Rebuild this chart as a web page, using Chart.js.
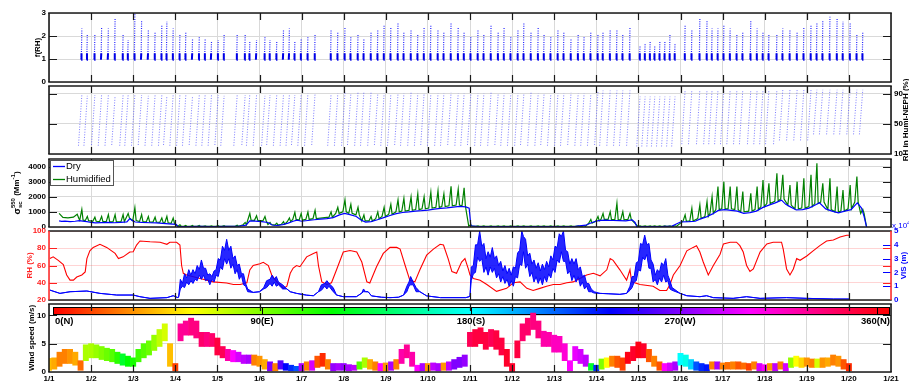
<!DOCTYPE html>
<html>
<head>
<meta charset="utf-8">
<script src="https://cdn.jsdelivr.net/npm/chart.js@4.4.1/dist/chart.umd.min.js"></script>
<style>
  html, body { margin: 0; padding: 0; background: #fff; }
  #wrap { position: relative; width: 909px; height: 383px; overflow: hidden; background: #fff; }
  #wrap canvas { position: absolute; left: 0; }
</style>
</head>
<body>
<div id="wrap">
  <canvas id="pFrh"></canvas>
  <canvas id="pScanRh"></canvas>
  <canvas id="pScat"></canvas>
  <canvas id="pMet"></canvas>
  <canvas id="pWind"></canvas>
</div>
<script>
// ---------- time axis (days since 1 Jan 00:00) ----------
const dayLabels = ['1/1','1/2','1/3','1/4','1/5','1/6','1/7','1/8','1/9','1/10','1/11',
                   '1/12','1/13','1/14','1/15','1/16','1/17','1/18','1/19','1/20','1/21'];
const dayTicks = dayLabels.map((_, i) => i);

// ---------- axis ticks ----------
const fTicks = [0, 1, 2, 3];
const scanRhTicks = [10, 50, 90];
const scatTicks = [0, 1000, 2000, 3000, 4000];
const rhTicks = [20, 40, 60, 80, 100];
const visTicks = [0, 1, 2, 3, 4, 5];
const windTicks = [0, 5, 10];
const dirTicks = [0, 90, 180, 270, 360];
const dirLabels = ['0(N)', '90(E)', '180(S)', '270(W)', '360(N)'];

// ---------- humidifier scans: time at the end of each RH ramp ----------
const scanEnd = [
  0.78, 0.91, 1.09, 1.25, 1.41, 1.57, 1.76, 1.88, 2.04, 2.20, 2.36,
  2.52, 2.68, 2.80, 2.95, 3.11, 3.25, 3.41, 3.57, 3.71, 3.86, 4.02,
  4.16, 4.47, 4.66, 4.77, 4.93, 5.13, 5.25, 5.41, 5.57, 5.71, 5.84,
  5.99, 6.15, 6.32, 6.70, 6.86, 7.03, 7.17, 7.34, 7.48, 7.65, 7.81,
  7.96, 8.12, 8.29, 8.43, 8.60, 8.76, 8.91, 9.07, 9.24, 9.38, 9.55,
  9.72, 9.86, 10.02, 10.19, 10.33, 10.50, 10.67, 10.81, 10.97, 11.14, 11.28,
  11.45, 11.62, 11.76, 11.92, 12.09, 12.23, 12.40, 12.57, 12.71, 12.87, 13.04,
  13.16, 13.33, 13.49, 13.63, 13.80, 14.04, 14.16, 14.28, 14.39, 14.51, 14.63,
  14.75, 14.87, 15.11, 15.27, 15.46, 15.63, 15.75, 15.89, 16.03, 16.18, 16.34,
  16.48, 16.67, 16.82, 16.96, 17.10, 17.29, 17.43, 17.60, 17.77, 17.93, 18.10,
  18.24, 18.38, 18.55, 18.72, 18.86, 19.03, 19.19, 19.33
];
// highest f(RH) reached in each scan
const fPeak = [
  2.33, 2.10, 2.10, 2.40, 2.33, 2.77, 2.04, 1.83, 2.98, 2.70, 2.26,
  2.20, 2.48, 2.62, 2.33, 2.10, 2.20, 1.90, 1.97, 1.90, 1.75, 1.83,
  2.04, 2.04, 2.04, 1.75, 1.83, 1.97, 1.83, 1.75, 2.26, 2.33, 1.75,
  1.90, 2.00, 2.10, 2.30, 2.20, 2.40, 2.00, 2.10, 1.90, 2.20, 2.30,
  2.50, 2.40, 2.60, 2.20, 2.30, 2.10, 2.40, 2.50, 2.30, 2.20, 2.60,
  2.40, 2.20, 2.00, 2.30, 2.10, 2.50, 2.20, 2.40, 2.00, 2.30, 2.60,
  2.20, 2.40, 2.10, 2.00, 2.30, 2.20, 1.90, 2.10, 2.00, 2.20, 2.10,
  2.19, 2.26, 2.26, 2.10, 2.40, 1.60, 1.70, 1.80, 1.60, 1.75, 1.80,
  2.10, 1.70, 2.48, 2.26, 2.77, 2.70, 2.33, 2.33, 2.48, 2.33, 2.10,
  2.20, 2.70, 2.33, 2.20, 2.10, 2.10, 2.33, 2.26, 2.20, 2.40, 2.48,
  2.55, 2.70, 2.84, 2.77, 2.62, 2.55, 2.10, 2.20
];
// RH at the start and at the end of each scan (%)
const scanRhLow = [
  21, 21, 22, 21, 21, 22, 21, 21, 21, 22, 21,
  21, 21, 22, 21, 21, 21, 22, 21, 21, 21, 22,
  21, 21, 22, 21, 21, 21, 22, 21, 21, 21, 22,
  21, 21, 22, 21, 21, 21, 22, 21, 21, 21, 22,
  21, 21, 22, 21, 21, 21, 22, 21, 21, 21, 22,
  21, 21, 22, 21, 21, 21, 22, 21, 21, 21, 22,
  21, 21, 22, 21, 21, 21, 22, 21, 21, 21, 22,
  21, 21, 21, 21, 21, 20, 20, 20, 20, 20, 20,
  20, 20, 23, 23, 23, 23, 23, 23, 23, 23, 23,
  23, 23, 23, 23, 23, 23, 28, 28, 28, 28, 28,
  36, 36, 36, 36, 36, 36, 36, 36
];
const scanRhHigh = [
  88, 87, 88, 89, 88, 87, 88, 88, 89, 88, 87,
  88, 88, 87, 89, 88, 88, 87, 88, 89, 88, 88,
  87, 88, 88, 89, 88, 87, 88, 88, 89, 88, 88,
  89, 90, 90, 89, 90, 91, 90, 92, 93, 92, 90,
  90, 89, 90, 90, 91, 90, 90, 89, 90, 90, 91,
  90, 90, 89, 90, 90, 91, 90, 90, 89, 90, 90,
  91, 90, 90, 89, 90, 90, 91, 90, 90, 89, 93,
  94, 94, 94, 94, 94, 86, 86, 86, 86, 86, 86,
  86, 86, 95, 95, 95, 95, 95, 95, 95, 95, 95,
  95, 95, 95, 95, 95, 95, 95, 95, 95, 95, 95,
  95, 95, 95, 95, 95, 95, 95, 95
];
// humidified scattering just before each scan and at its peak (Mm-1)
const wetBase = [
  450, 420, 380, 350, 360, 340, 360, 600, 420, 360, 340,
  330, 300, 280, 240, 50, 40, 40, 40, 40, 40, 40,
  40, 50, 150, 450, 440, 400, 160, 120, 180, 350, 500,
  450, 500, 550, 650, 900, 1000, 900, 800, 400, 400, 550,
  700, 850, 1000, 1050, 1100, 1150, 1200, 1250, 1300, 1350, 1400,
  1450, 1400, 60, 40, 40, 40, 40, 40, 40, 40, 40,
  40, 40, 40, 40, 40, 40, 40, 40, 40, 250, 400,
  500, 500, 480, 480, 500, 40, 40, 40, 40, 40, 40,
  40, 40, 380, 400, 560, 700, 900, 1150, 1200, 1200, 1150,
  1000, 1050, 1150, 1350, 1550, 1700, 1850, 1450, 1200, 1250, 1350,
  1550, 1650, 1150, 1000, 1050, 1200, 1650, 900
];
const wetPeak = [
  1170, 700, 650, 700, 820, 820, 820, 900, 1280, 820, 700,
  650, 600, 700, 600, 150, 100, 100, 100, 80, 80, 90,
  90, 120, 300, 900, 750, 700, 300, 250, 350, 600, 968,
  900, 1000, 1100, 1000, 1300, 1800, 1500, 1300, 800, 700, 1000,
  1300, 1500, 1800, 1900, 2000, 2200, 2000, 2300, 2400, 2200, 2700,
  2500, 2600, 150, 80, 80, 80, 80, 80, 80, 80, 80,
  80, 80, 80, 80, 80, 80, 80, 80, 80, 500, 700,
  900, 1010, 1570, 1010, 900, 80, 80, 80, 80, 80, 80,
  80, 80, 800, 1240, 1460, 1680, 2000, 2670, 3000, 2670, 2670,
  2340, 2230, 2670, 3110, 2890, 3550, 3450, 2780, 3000, 3230, 3450,
  4220, 2890, 3230, 2670, 2450, 2780, 3340, 1170
];
const wetLead = [[0.24, 900], [0.33, 640], [0.45, 600], [0.58, 650], [0.67, 840], [0.71, 560]];
const wetTail = [[19.42, 0]];

// dry scattering at 550 nm (Mm-1)
const dryScat = [
  [0.24,400],[0.30,370],[0.38,390],[0.50,350],[0.62,380],[0.72,420],[0.80,390],[0.90,350],
  [1.00,300],[1.10,270],[1.25,290],[1.40,300],[1.55,280],[1.70,300],[1.85,340],[1.92,560],
  [1.98,420],[2.05,330],[2.20,300],[2.40,280],[2.55,270],[2.70,240],[2.85,210],[3.02,180],
  [3.06,40],[3.30,30],[3.60,40],[3.90,30],[4.20,40],[4.50,50],[4.68,120],[4.77,400],
  [4.90,390],[5.05,360],[5.20,300],[5.30,130],[5.42,100],[5.55,160],[5.68,260],[5.80,380],
  [5.89,450],[6.00,380],[6.15,430],[6.30,480],[6.45,520],[6.60,560],[6.75,620],[6.90,800],
  [7.02,900],[7.15,820],[7.30,700],[7.42,450],[7.52,320],[7.65,360],[7.80,480],[7.95,620],
  [8.10,760],[8.25,880],[8.40,960],[8.55,1000],[8.70,1050],[8.85,1080],[9.00,1120],[9.15,1180],
  [9.30,1230],[9.45,1270],[9.60,1320],[9.75,1360],[9.90,1330],[9.98,1250],[10.02,80],[10.20,30],
  [10.60,20],[11.00,30],[11.50,25],[12.00,30],[12.50,40],[12.75,120],[12.90,300],[13.05,420],
  [13.20,450],[13.40,430],[13.55,420],[13.70,410],[13.85,470],[13.92,300],[13.96,40],[14.30,30],
  [14.60,40],[14.80,60],[14.90,200],[15.00,330],[15.20,350],[15.35,380],[15.46,520],[15.60,650],
  [15.75,850],[15.90,1100],[16.05,1150],[16.20,1100],[16.35,1050],[16.50,900],[16.65,950],[16.80,1050],
  [16.96,1300],[17.10,1450],[17.25,1600],[17.40,1780],[17.50,1500],[17.60,1350],[17.75,1130],[17.90,1150],
  [18.05,1250],[18.20,1450],[18.30,1600],[18.45,1200],[18.60,1050],[18.75,940],[18.90,1050],[19.05,1150],
  [19.20,1600],[19.30,1250],[19.36,700],[19.42,0]
];

// ambient RH (%)
const ambientRh = [
  [0.02,68],[0.10,70],[0.22,66],[0.34,61],[0.42,49],[0.50,43],[0.58,43],[0.66,46.6],[0.78,49],[0.86,52.6],
  [0.90,68],[0.97,77],[1.05,81],[1.21,84.6],[1.37,81],[1.57,74],[1.65,68],[1.76,70],[1.92,75.6],[2.00,76],
  [2.08,83.7],[2.16,88.4],[2.40,87.5],[2.64,87],[2.80,84.6],[2.87,87],[3.03,87],[3.11,83.7],[3.15,60],[3.19,51],
  [3.27,49],[3.43,47],[3.59,45],[3.90,41],[4.22,39.7],[4.38,38],[4.54,38],[4.70,40],[4.77,54.8],[4.85,60],
  [5.01,62],[5.09,63.7],[5.21,60],[5.29,49],[5.41,41],[5.57,33.5],[5.65,36],[5.73,51],[5.80,57],[5.88,60],
  [5.96,58.6],[6.12,70],[6.28,74],[6.36,75.6],[6.40,60],[6.48,41],[6.60,38],[6.71,40],[6.83,55],[6.99,75.6],
  [7.15,77.3],[7.31,75.6],[7.43,64],[7.55,41],[7.62,39.7],[7.78,58.6],[7.94,74],[8.10,81],[8.26,81],[8.34,79],
  [8.46,60],[8.57,43],[8.69,41],[8.81,55],[8.97,72],[9.13,79],[9.29,84.6],[9.37,83.8],[9.48,68],[9.57,53],
  [9.68,51],[9.80,64],[9.88,68],[9.96,56],[10.00,49],[10.08,45],[10.24,43],[10.40,38],[10.63,30],[10.87,33.5],
  [11.03,40],[11.19,41],[11.35,33.5],[11.50,31],[11.66,33.5],[11.82,36],[11.98,38],[12.14,38],[12.30,40],[12.45,41],
  [12.61,45],[12.77,49],[12.93,51],[13.09,48],[13.25,55],[13.33,68],[13.40,66],[13.56,55],[13.64,49],[13.72,43],
  [13.80,55],[13.84,41],[14.04,38],[14.35,36],[14.51,31],[14.67,31],[14.75,38],[14.83,49],[14.99,60],[15.15,77],
  [15.30,81],[15.38,83],[15.46,75.6],[15.54,64],[15.66,49],[15.78,60],[15.94,73],[16.02,85],[16.18,87],[16.33,87],
  [16.41,83],[16.49,75.6],[16.57,60],[16.65,53],[16.73,56],[16.89,75.6],[17.05,85],[17.20,87],[17.40,87],[17.44,79],
  [17.52,56],[17.60,49],[17.68,56],[17.76,68],[17.84,66],[18.00,71],[18.15,77],[18.31,83],[18.47,88.4],[18.63,89.5],
  [18.79,93],[18.95,95],[19.01,95]
];

// visibility (x 10^4 m): [time, lower edge, upper edge] of the fluctuating signal
const visibility = [
  [0.02,0.72,0.72],[0.26,0.48,0.48],[0.50,0.60,0.60],[0.90,0.65,0.65],[1.21,0.48,0.48],[1.61,0.36,0.36],
  [2.00,0.36,0.36],[2.16,0.24,0.24],[2.40,0.12,0.12],[2.80,0.17,0.17],[2.95,0.31,0.31],[3.06,0.17,0.17],
  [3.08,0.2,0.3],[3.12,0.8,1.5],[3.17,1.0,1.2],[3.22,0.9,1.9],[3.27,1.3,1.6],[3.32,1.1,2.2],[3.37,1.4,1.8],
  [3.42,1.2,2.2],[3.47,1.5,1.9],[3.52,1.4,2.5],[3.57,1.8,2.2],[3.62,1.5,2.9],[3.67,1.8,2.3],[3.72,1.4,2.3],
  [3.77,1.5,1.8],[3.82,1.1,1.9],[3.87,1.5,1.7],[3.92,1.3,2.1],[3.97,1.8,2.2],[4.02,1.7,3.0],[4.07,2.4,2.9],
  [4.12,2.2,3.9],[4.17,3.0,3.6],[4.22,2.6,4.4],[4.27,3.0,3.6],[4.32,2.3,3.9],[4.37,2.6,3.0],[4.42,1.9,3.2],
  [4.47,2.2,2.5],[4.52,1.5,2.6],[4.57,1.8,1.9],[4.62,1.1,1.9],[4.67,1.0,1.2],[4.72,0.6,0.8],
  [4.85,0.55,0.55],[5.00,0.6,0.6],[5.10,0.8,0.9],[5.17,0.9,1.4],[5.25,1.2,1.5],[5.30,1.0,1.8],[5.35,1.3,1.5],
  [5.40,1.0,1.7],[5.45,1.1,1.3],[5.55,0.8,1.1],[5.65,0.8,0.8],[5.73,0.6,0.6],[5.88,0.48,0.48],[6.12,0.35,0.35],
  [6.28,0.31,0.31],[6.40,0.6,0.6],[6.47,0.7,1.1],[6.55,1.0,1.2],[6.60,0.8,1.4],[6.65,1.0,1.2],[6.75,0.6,0.9],
  [6.83,0.36,0.36],[6.99,0.24,0.24],[7.30,0.24,0.24],[7.43,0.5,0.5],[7.47,0.6,0.8],[7.52,0.6,0.6],[7.58,0.6,0.6],
  [7.66,0.3,0.3],[7.90,0.2,0.2],[8.10,0.17,0.17],[8.30,0.2,0.2],[8.42,0.35,0.35],[8.50,0.6,1.0],[8.55,1.0,1.3],
  [8.59,1.1,1.7],[8.65,1.1,1.3],[8.72,0.6,0.9],[8.81,0.6,0.6],[8.97,0.3,0.3],[9.30,0.17,0.17],[9.90,0.17,0.17],
  [9.98,0.24,0.24],
  [10.00,0.3,0.3],[10.03,1.4,2.4],[10.08,1.9,2.5],[10.13,2.0,4.0],[10.18,3.1,4.0],[10.23,2.8,5.0],[10.28,3.0,3.9],
  [10.33,2.0,4.1],[10.38,2.4,3.0],[10.43,1.8,3.5],[10.48,2.4,3.1],[10.53,2.0,3.8],[10.58,2.3,3.0],[10.63,1.6,3.2],
  [10.68,1.9,2.5],[10.73,1.3,2.8],[10.78,1.7,2.1],[10.83,1.2,2.5],[10.88,1.5,1.9],[10.93,1.0,2.3],[10.98,1.4,1.8],
  [11.03,1.0,2.4],[11.08,1.7,2.3],[11.13,1.6,3.4],[11.18,2.6,3.6],[11.23,2.5,5.0],[11.27,3.5,4.6],[11.32,2.3,4.4],
  [11.37,2.6,3.2],[11.42,1.7,3.4],[11.47,2.0,2.6],[11.52,1.3,2.9],[11.57,1.7,2.3],[11.62,1.2,2.7],[11.67,1.6,2.1],
  [11.72,1.1,2.6],[11.77,1.7,2.2],[11.82,1.3,2.8],[11.87,1.9,2.4],[11.92,1.6,3.2],[11.97,2.3,2.9],[12.02,2.0,3.9],
  [12.07,2.9,3.8],[12.12,2.7,4.8],[12.17,3.5,4.6],[12.22,2.8,5.0],[12.27,2.8,3.6],[12.32,1.9,3.5],[12.37,2.1,2.6],
  [12.42,1.4,3.0],[12.47,1.8,2.6],[12.52,1.3,3.0],[12.57,1.7,2.2],[12.62,1.0,2.4],[12.67,1.3,1.7],[12.72,0.8,1.8],
  [12.77,1.0,1.2],[12.82,0.6,1.2],[12.88,0.6,0.8],[12.95,0.5,0.6],
  [13.09,0.48,0.48],[13.30,0.45,0.45],[13.56,0.41,0.41],[13.72,0.48,0.48],
  [13.80,0.7,1.0],[13.85,0.9,1.7],[13.90,1.3,1.7],[13.95,1.4,2.7],[14.00,2.2,2.8],[14.05,2.1,4.1],[14.10,3.1,4.0],
  [14.15,2.9,4.7],[14.20,3.3,4.0],[14.25,2.3,4.1],[14.30,2.3,2.9],[14.35,1.3,2.6],[14.40,1.5,1.8],[14.45,1.1,2.2],
  [14.50,1.6,2.0],[14.55,1.3,2.7],[14.60,1.8,2.5],[14.65,1.3,3.0],[14.70,1.4,1.8],[14.75,0.8,1.4],[14.80,0.7,0.9],
  [14.99,0.48,0.48],[15.15,0.31,0.31],[15.46,0.24,0.24],[15.62,0.31,0.31],[15.78,0.17,0.17],[16.25,0.12,0.12],
  [16.57,0.24,0.24],[16.89,0.12,0.12],[17.52,0.17,0.17],[18.00,0.12,0.12],[18.63,0.07,0.07],[19.01,0.07,0.07]
];

// wind, 3-hourly from 1/1 00:00: speed range (m/s) and direction (deg)
const windStepHours = 3;
const windLow = [
  0.3,0.5,1.0,1.5,1.5,1.2,0.3,2.0, 2.5,2.5,2.2,2.0,1.8,1.5,1.2,1.0,
  1.0,1.8,2.5,3.0,3.8,4.5,5.5,1.0, 0.2,5.5,6.5,6.5,6.0,4.5,4.5,4.5,
  3.0,2.5,2.0,1.8,1.8,1.5,1.5,1.2, 1.0,0.5,0.2,0.2,0.5,0.3,0.2,0.2,
  0.2,0.3,0.3,0.8,1.0,0.5,0.2,0.3, 0.3,0.2,0.3,0.5,0.8,0.5,0.3,0.2,
  0.2,0.3,0.5,1.5,2.5,1.0,0.0,0.2, 0.2,0.3,0.2,0.3,0.3,0.5,0.8,1.0,
  4.5,4.5,5.0,4.0,4.5,4.0,3.0,1.0, 0.0,2.5,5.5,6.5,7.5,6.0,4.5,4.5,
  3.5,3.5,2.0,0.2,2.0,1.5,1.0,0.3, 0.2,
  0.5,0.8,1.0,0.8,0.3,1.5,2.0,2.5, 2.5,1.8,1.0,0.3,0.2,0.2,0.3,1.2,
  1.0,0.5,0.3,0.2,0.2,0.5,0.5,0.5, 0.5,0.5,0.5,0.5,0.3,0.5,0.2,0.2,
  0.3,0.2,0.5,0.2,0.8,1.0,0.8,1.0, 0.8,0.8,0.8,1.0,1.2,1.0,0.5,0.2
];
const windHigh = [
  2.4,2.5,3.5,4.0,4.0,3.5,2.0,4.8, 5.0,4.8,4.5,4.2,4.0,3.5,3.2,2.8,
  2.5,4.0,5.0,5.5,6.5,7.5,8.5,5.0, 1.5,8.5,9.0,9.5,9.0,7.0,7.0,6.8,
  6.0,4.5,4.0,3.8,3.5,3.0,3.0,3.0, 2.8,2.2,1.8,1.5,2.0,1.5,1.2,1.0,
  1.5,1.8,2.0,2.8,3.3,2.2,1.5,1.5, 1.5,1.3,1.2,1.8,2.5,2.2,1.8,1.5,
  1.6,1.8,2.2,4.0,4.8,3.5,1.2,1.5, 1.5,1.6,1.5,1.6,1.8,2.2,2.6,3.0,
  7.0,7.5,7.8,7.0,7.5,7.3,6.0,4.0, 1.5,5.5,8.5,9.5,10.4,9.0,7.2,7.0,
  6.5,6.3,5.0,2.0,4.5,4.0,3.0,1.5, 1.2,
  2.3,2.5,2.8,2.8,2.5,3.5,4.5,5.3, 5.0,4.0,2.8,1.8,1.5,1.6,1.8,3.3,
  3.0,2.2,1.8,1.5,1.3,1.8,1.8,1.6, 1.7,1.8,1.8,1.6,1.5,1.8,1.5,1.3,
  1.5,1.5,1.8,1.5,2.5,2.8,2.5,2.5, 2.3,2.3,2.5,2.5,3.0,2.8,2.2,1.5
];
const windDir = [
  45,40,30,30,35,40,25,80, 80,85,90,95,100,110,130,120,
  115,105,100,95,85,75,70,45, 15,325,325,330,330,335,330,335,
  345,340,320,300,290,285,280,30, 35,40,270,30,260,240,230,220,
  280,30,290,20,10,30,275,280, 275,280,285,100,80,40,30,300,
  35,280,30,320,325,320,300,280, 35,285,280,35,285,270,270,275,
  340,345,345,345,340,345,345,350, 350,345,335,335,330,330,320,320,
  315,315,310,300,295,290,285,130, 230,
  90,60,30,20,15,355,350,355, 350,20,30,20,300,290,280,180,
  175,190,220,230,235,30,280,30, 25,30,20,25,15,30,290,300,
  35,285,30,290,85,60,50,35, 30,70,35,40,30,35,20,10
];

// ---------- drawing setup ----------
const FONT = '"Liberation Sans", Arial, Helvetica, sans-serif';
const font = (px, w = 'bold') => `${w} ${px}px ${FONT}`;
const TICK_FONT = {family: FONT, size: 8, weight: 'bold'};
const TITLE = font(8);
const GRID = '#d9d9d9';
const INK = '#1a1a1a';
const W = 909, H = 383, PLOT_L = 49, PLOT_R = 891;
const SCAN_DAYS = 0.08;      // length of one humidifier RH ramp

Chart.defaults.font.family = FONT;
Chart.defaults.animation = false;
Chart.defaults.events = [];
Chart.defaults.plugins.legend.display = false;
Chart.defaults.plugins.tooltip.enabled = false;

function xScale(withLabels) {
  return {
    type: 'linear', min: 0, max: 20, offset: false,
    afterBuildTicks: s => { s.ticks = dayTicks.map(v => ({value: v})); },
    afterFit: s => { s.height = withLabels ? H - 372 : 0; },
    grid: {color: GRID, lineWidth: 1, drawTicks: false, offset: false},
    border: {display: false},
    ticks: withLabels
      ? {display: true, autoSkip: false, maxRotation: 0, padding: 2, color: '#000', font: TICK_FONT,
         callback: (v, i) => dayLabels[i]}
      : {display: false}
  };
}

function yScale(pos, min, max, ticks, o = {}) {
  return {
    type: 'linear', position: pos, min, max,
    afterBuildTicks: s => { s.ticks = ticks.map(v => ({value: v})); },
    afterFit: s => { s.width = pos === 'left' ? PLOT_L : W - PLOT_R; },
    grid: {display: o.grid !== false, color: o.gridColor || GRID, lineWidth: 1, drawTicks: false},
    border: {display: false},
    ticks: {display: o.labels !== false, color: o.color || '#000', font: TICK_FONT, padding: 3,
            callback: v => String(v)}
  };
}

// box, inward tick marks
const framePlugin = {
  id: 'frame',
  afterDatasetsDraw(chart, _args, o) {
    const {ctx, chartArea: a, scales} = chart;
    ctx.save();
    ctx.lineWidth = 1.2;
    ctx.strokeStyle = INK;
    ctx.beginPath();
    dayTicks.forEach(v => {
      if (v === 0 || v === 20) return;
      const px = Math.round(scales.x.getPixelForValue(v)) + 0.5;
      ctx.moveTo(px, a.top); ctx.lineTo(px, a.top + 7);
      ctx.moveTo(px, a.bottom); ctx.lineTo(px, a.bottom - 7);
    });
    ctx.stroke();
    (o.marks || []).forEach(m => {
      const s = scales[m.scale];
      ctx.strokeStyle = m.color || INK;
      ctx.beginPath();
      s.ticks.forEach(t => {
        if (t.value <= s.min || t.value >= s.max) return;
        const py = Math.round(s.getPixelForValue(t.value)) + 0.5;
        if (m.left) { ctx.moveTo(a.left, py); ctx.lineTo(a.left + 8, py); }
        if (m.right) { ctx.moveTo(a.right, py); ctx.lineTo(a.right - 8, py); }
      });
      ctx.stroke();
    });
    ctx.lineWidth = 1.6;
    const edge = (c, x0, y0, x1, y1) => {
      ctx.strokeStyle = c; ctx.beginPath(); ctx.moveTo(x0, y0); ctx.lineTo(x1, y1); ctx.stroke();
    };
    edge(INK, a.left - 0.8, a.top, a.right + 0.8, a.top);
    edge(INK, a.left - 0.8, a.bottom, a.right + 0.8, a.bottom);
    edge(o.leftColor || INK, a.left, a.top, a.left, a.bottom);
    edge(o.rightColor || INK, a.right, a.top, a.right, a.bottom);
    ctx.restore();
  }
};

// rotated axis titles, read from bottom to top; parts may carry super/subscripts
function drawVText(ctx, x, yc, parts, color) {
  ctx.save();
  ctx.translate(x, yc);
  ctx.rotate(-Math.PI / 2);
  ctx.fillStyle = color || '#000';
  ctx.textBaseline = 'middle';
  ctx.textAlign = 'left';
  const widths = parts.map(p => { ctx.font = p.f; return ctx.measureText(p.t).width; });
  const pos = [];
  let cur = 0, start = 0, span = 0;
  parts.forEach((p, i) => {
    if (p.stack) { pos.push(start); span = Math.max(span, widths[i]); cur = start + span; }
    else { pos.push(cur); start = cur; span = widths[i]; cur += widths[i]; }
  });
  parts.forEach((p, i) => { ctx.font = p.f; ctx.fillText(p.t, pos[i] - cur / 2, p.dy || 0); });
  ctx.restore();
}

const titlePlugin = {
  id: 'vtitles',
  afterDraw(chart, _args, o) {
    const a = chart.chartArea;
    (o.items || []).forEach(it => drawVText(chart.ctx, it.x, (a.top + a.bottom) / 2 + (it.dy || 0), it.parts, it.color));
  }
};

function makePanel(id, top, bottom, cfg) {
  const last = !!cfg.last;
  const padT = Math.min(16, top);
  const padB = last ? 0 : 16;
  const cvTop = top - padT;
  const cvH = last ? H - cvTop : bottom - top + padT + padB;
  const cv = document.getElementById(id);
  cv.width = W; cv.height = cvH;
  cv.style.top = cvTop + 'px';
  cv.style.width = W + 'px'; cv.style.height = cvH + 'px';
  return new Chart(cv, {
    type: cfg.type || 'scatter',
    data: {datasets: cfg.datasets},
    options: {
      responsive: false,
      maintainAspectRatio: false,
      layout: {padding: {top: padT, bottom: padB,
                         left: cfg.hasLeft === false ? PLOT_L : 0,
                         right: cfg.hasRight ? 0 : W - PLOT_R}},
      scales: Object.assign({x: xScale(last)}, cfg.scales),
      plugins: {frame: cfg.frame, vtitles: {items: cfg.titles}}
    },
    plugins: [framePlugin, titlePlugin].concat(cfg.extra || [])
  });
}

// ---------- panel 1: f(RH) ----------
const streakPts = [], streakBase = [];
scanEnd.forEach((t, i) => {
  streakPts.push({x: t - 0.012, y: 1.0}, {x: t, y: fPeak[i]}, {x: t, y: null});
  streakBase.push({x: t - 0.016, y: 0.97}, {x: t - 0.008, y: 1.25}, {x: t, y: null});
});
makePanel('pFrh', 13, 82, {
  datasets: [
    {data: streakBase, showLine: true, borderColor: '#0000e6', borderWidth: 2, pointRadius: 0, spanGaps: false},
    {data: streakPts, showLine: true, borderColor: 'rgba(0,0,255,0.85)', borderWidth: 1.2,
     borderDash: [1, 1.3], pointRadius: 0, spanGaps: false}
  ],
  scales: {y: yScale('left', 0, 3, fTicks)},
  frame: {marks: [{scale: 'y', left: true, right: true}]},
  titles: [{x: 38, parts: [{t: 'f(RH)', f: TITLE}]}]
});

// ---------- panel 2: RH inside the humidified nephelometer ----------
const rampPts = [];
scanEnd.forEach((t, i) => {
  rampPts.push({x: t - SCAN_DAYS, y: scanRhLow[i]}, {x: t, y: scanRhHigh[i]}, {x: t, y: null});
});
makePanel('pScanRh', 86, 154, {
  hasLeft: false, hasRight: true,
  datasets: [
    {data: rampPts, showLine: true, borderColor: 'rgba(80,80,255,0.75)', borderWidth: 1,
     borderDash: [1, 1.6], pointRadius: 0, spanGaps: false}
  ],
  scales: {y: yScale('right', 10, 100, scanRhTicks)},
  frame: {marks: [{scale: 'y', left: true, right: true}]},
  titles: [{x: 906, parts: [{t: 'RH in Humi-NEPH (%)', f: TITLE}]}]
});

// ---------- panel 3: dry and humidified scattering ----------
const wetPts = wetLead.map(p => ({x: p[0], y: p[1]}));
scanEnd.forEach((t, i) => {
  wetPts.push({x: t - 0.05, y: wetBase[i]}, {x: t, y: wetPeak[i]}, {x: t + 0.03, y: wetBase[i]});
});
wetTail.forEach(p => wetPts.push({x: p[0], y: p[1]}));

const legendPlugin = {
  id: 'scatLegend',
  afterDatasetsDraw(chart) {
    const {ctx, chartArea: a} = chart;
    const x0 = a.left + 1, y0 = a.top + 1, w = 63, h = 25;
    ctx.save();
    ctx.fillStyle = '#fff';
    ctx.fillRect(x0, y0, w, h);
    ctx.strokeStyle = '#555'; ctx.lineWidth = 1;
    ctx.strokeRect(x0 + 0.5, y0 + 0.5, w, h);
    [['Dry', '#0000ff', 6.5], ['Humidified', '#008000', 19.5]].forEach(([txt, c, dy]) => {
      ctx.strokeStyle = c; ctx.lineWidth = 1.3;
      ctx.beginPath(); ctx.moveTo(x0 + 3, y0 + dy); ctx.lineTo(x0 + 15, y0 + dy); ctx.stroke();
      ctx.fillStyle = '#000'; ctx.font = font(9.5, 'normal');
      ctx.textBaseline = 'middle'; ctx.fillText(txt, x0 + 16, y0 + dy);
    });
    ctx.restore();
  }
};
const SUB = font(6);
makePanel('pScat', 159, 227, {
  datasets: [
    {data: dryScat.map(p => ({x: p[0], y: p[1]})), showLine: true, borderColor: '#0000ff', borderWidth: 1.2, pointRadius: 0},
    {data: wetPts, showLine: true, borderColor: '#008000', borderWidth: 1.2, pointRadius: 0}
  ],
  scales: {y: yScale('left', 0, 4500, scatTicks)},
  frame: {marks: [{scale: 'y', left: true, right: true}]},
  titles: [{x: 17, parts: [
    {t: 'σ', f: font(9.5)}, {t: '550', f: SUB, dy: -4}, {t: 'sc', f: SUB, dy: 3, stack: true},
    {t: ' (Mm', f: TITLE}, {t: '-1', f: SUB, dy: -4}, {t: ')', f: TITLE}
  ]}],
  extra: [legendPlugin]
});

// ---------- panel 4: ambient RH and visibility ----------
const expoPlugin = {
  id: 'visExponent',
  afterDraw(chart) {
    const {ctx, chartArea: a} = chart;
    ctx.save();
    ctx.fillStyle = '#0000ff';
    ctx.textBaseline = 'middle';
    ctx.font = font(8, 'normal');
    ctx.fillText('x 10', a.right + 1, a.top - 5);
    const w = ctx.measureText('x 10').width;
    ctx.font = font(6, 'normal');
    ctx.fillText('4', a.right + 1 + w, a.top - 8);
    ctx.restore();
  }
};
makePanel('pMet', 231, 300, {
  hasRight: true,
  datasets: [
    {data: visibility.map(p => ({x: p[0], y: p[2]})), yAxisID: 'y2', showLine: true,
     borderColor: '#0000ff', borderWidth: 1, pointRadius: 0},
    {data: visibility.map(p => ({x: p[0], y: p[1]})), yAxisID: 'y2', showLine: true,
     borderColor: '#0000ff', borderWidth: 1, pointRadius: 0,
     fill: '-1', backgroundColor: 'rgba(0,0,255,0.85)'},
    {data: ambientRh.map(p => ({x: p[0], y: p[1]})), yAxisID: 'y', showLine: true,
     borderColor: '#ff0000', borderWidth: 1.1, pointRadius: 0}
  ],
  scales: {
    y: yScale('left', 20, 100, rhTicks, {color: '#ff2020', gridColor: 'rgba(255,60,60,0.22)'}),
    y2: yScale('right', 0, 5, visTicks, {color: '#0000ff', grid: false})
  },
  frame: {leftColor: '#ff3030', rightColor: '#ff3030',
          marks: [{scale: 'y', left: true, right: true, color: '#ff2020'},
                  {scale: 'y2', right: true, color: '#0000ff'}]},
  titles: [
    {x: 30, color: '#ff2020', parts: [{t: 'RH (%)', f: TITLE}]},
    {x: 904, color: '#0000ff', parts: [{t: 'VIS (m)', f: TITLE}]}
  ],
  extra: [expoPlugin]
});

// ---------- panel 5: wind speed coloured by direction ----------
const windTime = windLow.map((_, i) => i * windStepHours / 24);
const dirColor = d => `hsl(${d}, 100%, 50%)`;
const colorbarPlugin = {
  id: 'dirColorbar',
  beforeDatasetsDraw(chart) {
    const {ctx, chartArea: a} = chart;
    const x0 = a.left + 4, x1 = a.right - 2, y0 = a.top + 3, h = 7;
    ctx.save();
    const g = ctx.createLinearGradient(x0, 0, x1, 0);
    for (let k = 0; k <= 6; k++) g.addColorStop(k / 6, dirColor(k * 60));
    ctx.fillStyle = g;
    ctx.fillRect(x0, y0, x1 - x0, h);
    ctx.strokeStyle = '#000'; ctx.lineWidth = 1;
    ctx.strokeRect(x0 + 0.5, y0 + 0.5, x1 - x0, h);
    ctx.beginPath();
    dirTicks.forEach(d => {
      if (d === 0) return;
      const px = Math.round(x0 + (x1 - x0) * d / 360 - (d === 360 ? 12 : 0)) + 0.5;
      ctx.moveTo(px, y0); ctx.lineTo(px, y0 + h);
    });
    ctx.stroke();
    ctx.fillStyle = '#000';
    ctx.font = font(9.5);
    ctx.textBaseline = 'middle';
    dirTicks.forEach((d, i) => {
      const px = x0 + (x1 - x0) * d / 360;
      ctx.textAlign = i === 0 ? 'left' : (i === dirTicks.length - 1 ? 'right' : 'center');
      ctx.fillText(dirLabels[i], i === 0 ? px + 2 : (i === dirTicks.length - 1 ? px + 1 : px), y0 + h + 7);
    });
    ctx.restore();
  }
};
makePanel('pWind', 304, 372, {
  type: 'bar',
  last: true,
  datasets: [{
    data: windTime.map((t, i) => ({x: t, y: [windLow[i], windHigh[i]]})),
    backgroundColor: windDir.map(dirColor),
    borderWidth: 0, barPercentage: 1, categoryPercentage: 1
  }],
  scales: {y: yScale('left', 0, 12, windTicks)},
  frame: {marks: [{scale: 'y', left: true, right: true}]},
  titles: [{x: 32, parts: [{t: 'Wind speed (m/s)', f: TITLE}]}],
  extra: [colorbarPlugin]
});
</script>
</body>
</html>
